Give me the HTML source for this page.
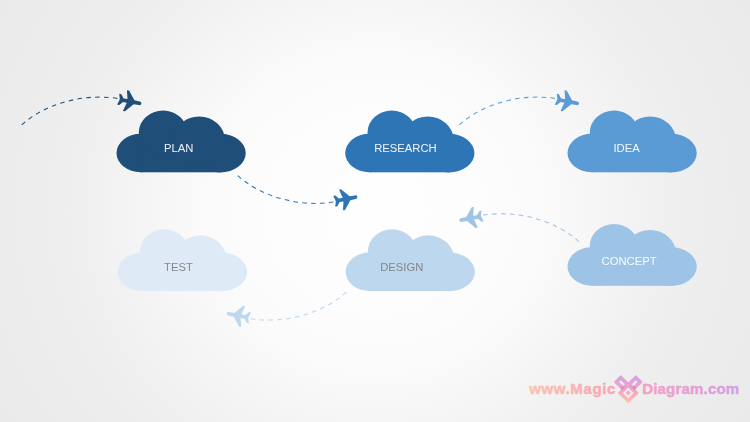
<!DOCTYPE html>
<html><head><meta charset="utf-8"><title>Cloud diagram</title>
<style>
html,body{margin:0;padding:0;}
body{width:750px;height:422px;overflow:hidden;position:relative;font-family:"Liberation Sans",sans-serif;
background:radial-gradient(ellipse 375px 354px at 50% 50%, rgb(254,254,254) 0%, rgb(253,253,253) 25%, rgb(250,250,250) 46.7%, rgb(246,246,246) 58.5%, rgb(241,241,241) 73.3%, rgb(238,238,238) 85%, rgb(236,236,236) 100%, rgb(234,234,234) 116%, rgb(233,233,233) 130%);}
svg{position:absolute;left:0;top:0;}
</style></head>
<body>
<svg width="750" height="422" viewBox="0 0 750 422">
<g><path d="M21.8,124.9 C44.86,103.68 83.69,93.15 117.4,98.42" fill="none" stroke="#1f4e79" stroke-width="1.05" stroke-dasharray="4.55 4.33"/><path transform="translate(129.5,101.4) rotate(11)" d="M10 -1.85 Q12.1 -1.85 12.1 0 Q12.1 1.85 10 1.85 L4.6 1.95 L-2.3 10.3 Q-3.4 11 -4.6 10.3 L-2.4 1.95 L-6.3 1.8 L-9.4 5.4 Q-10.4 5.9 -11.5 5.4 L-10.1 0.9 L-10.1 -0.9 L-11.5 -5.4 Q-10.4 -5.9 -9.4 -5.4 L-6.3 -1.8 L-2.4 -1.95 L-4.6 -10.3 Q-3.4 -11 -2.3 -10.3 L4.6 -1.95 Z" fill="#1f4e79"/></g>
<g transform="matrix(1,0,0,-1,216,300.5)"><path d="M21.8,124.9 C44.86,103.68 83.69,93.15 117.4,98.42" fill="none" stroke="#2e75b6" stroke-width="1.05" stroke-dasharray="4.55 4.33"/><path transform="translate(129.5,101.4) rotate(11)" d="M10 -1.85 Q12.1 -1.85 12.1 0 Q12.1 1.85 10 1.85 L4.6 1.95 L-2.3 10.3 Q-3.4 11 -4.6 10.3 L-2.4 1.95 L-6.3 1.8 L-9.4 5.4 Q-10.4 5.9 -11.5 5.4 L-10.1 0.9 L-10.1 -0.9 L-11.5 -5.4 Q-10.4 -5.9 -9.4 -5.4 L-6.3 -1.8 L-2.4 -1.95 L-4.6 -10.3 Q-3.4 -11 -2.3 -10.3 L4.6 -1.95 Z" fill="#2e75b6"/></g>
<g transform="translate(437.6,0)"><path d="M21.8,124.9 C44.86,103.68 83.69,93.15 117.4,98.42" fill="none" stroke="#5b9bd5" stroke-width="1.05" stroke-dasharray="4.55 4.33"/><path transform="translate(129.5,101.4) rotate(11)" d="M10 -1.85 Q12.1 -1.85 12.1 0 Q12.1 1.85 10 1.85 L4.6 1.95 L-2.3 10.3 Q-3.4 11 -4.6 10.3 L-2.4 1.95 L-6.3 1.8 L-9.4 5.4 Q-10.4 5.9 -11.5 5.4 L-10.1 0.9 L-10.1 -0.9 L-11.5 -5.4 Q-10.4 -5.9 -9.4 -5.4 L-6.3 -1.8 L-2.4 -1.95 L-4.6 -10.3 Q-3.4 -11 -2.3 -10.3 L4.6 -1.95 Z" fill="#5b9bd5"/></g>
<g transform="matrix(-1,0,0,1,600.7,116.7)"><path d="M21.8,124.9 C44.86,103.68 83.69,93.15 117.4,98.42" fill="none" stroke="#9dc3e6" stroke-width="1.05" stroke-dasharray="4.55 4.33"/><path transform="translate(129.5,101.4) rotate(11)" d="M10 -1.85 Q12.1 -1.85 12.1 0 Q12.1 1.85 10 1.85 L4.6 1.95 L-2.3 10.3 Q-3.4 11 -4.6 10.3 L-2.4 1.95 L-6.3 1.8 L-9.4 5.4 Q-10.4 5.9 -11.5 5.4 L-10.1 0.9 L-10.1 -0.9 L-11.5 -5.4 Q-10.4 -5.9 -9.4 -5.4 L-6.3 -1.8 L-2.4 -1.95 L-4.6 -10.3 Q-3.4 -11 -2.3 -10.3 L4.6 -1.95 Z" fill="#9dc3e6"/></g>
<g transform="matrix(-1,0,0,-1,368.1,417.1)"><path d="M21.8,124.9 C44.86,103.68 83.69,93.15 117.4,98.42" fill="none" stroke="#bdd7ee" stroke-width="1.05" stroke-dasharray="4.55 4.33"/><path transform="translate(129.5,101.4) rotate(11)" d="M10 -1.85 Q12.1 -1.85 12.1 0 Q12.1 1.85 10 1.85 L4.6 1.95 L-2.3 10.3 Q-3.4 11 -4.6 10.3 L-2.4 1.95 L-6.3 1.8 L-9.4 5.4 Q-10.4 5.9 -11.5 5.4 L-10.1 0.9 L-10.1 -0.9 L-11.5 -5.4 Q-10.4 -5.9 -9.4 -5.4 L-6.3 -1.8 L-2.4 -1.95 L-4.6 -10.3 Q-3.4 -11 -2.3 -10.3 L4.6 -1.95 Z" fill="#bdd7ee"/></g>
<g transform="translate(116.5,110.5) scale(1.005,1)" fill="#1f4e79"><ellipse cx="24" cy="42.5" rx="24" ry="19.2"/><ellipse cx="103.2" cy="42.6" rx="25.4" ry="19.3"/><rect x="24" y="23.3" width="79.2" height="38.5"/><ellipse cx="46.3" cy="22" rx="24.1" ry="22"/><ellipse cx="82.2" cy="30" rx="25.8" ry="24"/></g>
<g transform="translate(345.2,110.5) scale(1.005,1)" fill="#2e75b6"><ellipse cx="24" cy="42.5" rx="24" ry="19.2"/><ellipse cx="103.2" cy="42.6" rx="25.4" ry="19.3"/><rect x="24" y="23.3" width="79.2" height="38.5"/><ellipse cx="46.3" cy="22" rx="24.1" ry="22"/><ellipse cx="82.2" cy="30" rx="25.8" ry="24"/></g>
<g transform="translate(567.5,110.5) scale(1.005,1)" fill="#5b9bd5"><ellipse cx="24" cy="42.5" rx="24" ry="19.2"/><ellipse cx="103.2" cy="42.6" rx="25.4" ry="19.3"/><rect x="24" y="23.3" width="79.2" height="38.5"/><ellipse cx="46.3" cy="22" rx="24.1" ry="22"/><ellipse cx="82.2" cy="30" rx="25.8" ry="24"/></g>
<g transform="translate(117.8,229.3) scale(1.005,1)" fill="#deebf7"><ellipse cx="24" cy="42.5" rx="24" ry="19.2"/><ellipse cx="103.2" cy="42.6" rx="25.4" ry="19.3"/><rect x="24" y="23.3" width="79.2" height="38.5"/><ellipse cx="46.3" cy="22" rx="24.1" ry="22"/><ellipse cx="82.2" cy="30" rx="25.8" ry="24"/></g>
<g transform="translate(345.6,229.3) scale(1.005,1)" fill="#bdd7ee"><ellipse cx="24" cy="42.5" rx="24" ry="19.2"/><ellipse cx="103.2" cy="42.6" rx="25.4" ry="19.3"/><rect x="24" y="23.3" width="79.2" height="38.5"/><ellipse cx="46.3" cy="22" rx="24.1" ry="22"/><ellipse cx="82.2" cy="30" rx="25.8" ry="24"/></g>
<g transform="translate(567.5,224.0) scale(1.005,1)" fill="#9dc3e6"><ellipse cx="24" cy="42.5" rx="24" ry="19.2"/><ellipse cx="103.2" cy="42.6" rx="25.4" ry="19.3"/><rect x="24" y="23.3" width="79.2" height="38.5"/><ellipse cx="46.3" cy="22" rx="24.1" ry="22"/><ellipse cx="82.2" cy="30" rx="25.8" ry="24"/></g>
<defs><linearGradient id="lg" gradientUnits="userSpaceOnUse" x1="0" y1="375" x2="0" y2="404"><stop offset="0" stop-color="#d5a2ea"/><stop offset="0.5" stop-color="#f2a2c6"/><stop offset="1" stop-color="#fcc6a4"/></linearGradient><mask id="lm"><rect x="600" y="370" width="60" height="40" fill="#fff"/><path d="M622.90 392.90 L628.30 398.30 L633.70 392.90 L628.30 387.50 Z M619.07 381.90 L623.81 386.64 L625.54 384.91 L620.80 380.17 Z M631.06 384.91 L632.79 386.64 L637.53 381.90 L635.80 380.17 Z" fill="#000"/></mask></defs>
<path d="M617.81 392.90 L628.30 403.39 L638.79 392.90 L628.30 382.41 Z M613.80 381.94 L623.85 391.98 L630.86 384.97 L620.82 374.93 Z M625.74 384.97 L632.75 391.98 L642.80 381.94 L635.78 374.93 Z" fill="url(#lg)" mask="url(#lm)"/>
<path d="M625.68 392.90 L628.30 395.52 L630.92 392.90 L628.30 390.28 Z" fill="url(#lg)"/>
<path d="M620.15 388.29 L621.85 389.99 L626.24 385.60 L624.54 383.91 Z M630.36 385.60 L634.75 389.99 L636.45 388.29 L632.06 383.91 Z" fill="#a060a8" opacity="0.28"/>
<defs><linearGradient id="tg" gradientUnits="userSpaceOnUse" x1="529" y1="0" x2="740" y2="0"><stop offset="0" stop-color="#fcc3ae"/><stop offset="0.42" stop-color="#f6a4b8"/><stop offset="0.6" stop-color="#f1a0c8"/><stop offset="1" stop-color="#d49fe6"/></linearGradient></defs>
<g font-family="Liberation Sans, sans-serif" font-weight="bold" font-size="15" fill="url(#tg)" stroke="url(#tg)" stroke-width="0.45"><text x="529.3" y="393.9" textLength="86.0" lengthAdjust="spacing">www.Magic</text><text x="642.2" y="393.9" textLength="96.9" lengthAdjust="spacing">Diagram.com</text></g>
<text x="178.7" y="151.90" text-anchor="middle" font-family="Liberation Sans, sans-serif" font-size="11.25" fill="#fff" opacity="0.93">PLAN</text>
<text x="405.5" y="151.90" text-anchor="middle" font-family="Liberation Sans, sans-serif" font-size="11.25" fill="#fff" opacity="0.93">RESEARCH</text>
<text x="626.6" y="151.90" text-anchor="middle" font-family="Liberation Sans, sans-serif" font-size="11.25" fill="#fff" opacity="0.93">IDEA</text>
<text x="178.4" y="270.90" text-anchor="middle" font-family="Liberation Sans, sans-serif" font-size="11.25" fill="#7f7f7f" opacity="0.93">TEST</text>
<text x="401.8" y="270.90" text-anchor="middle" font-family="Liberation Sans, sans-serif" font-size="11.25" fill="#7f7f7f" opacity="0.93">DESIGN</text>
<text x="629.1" y="265.45" text-anchor="middle" font-family="Liberation Sans, sans-serif" font-size="11.25" fill="#fff" opacity="0.93">CONCEPT</text>
</svg>
</body></html>
